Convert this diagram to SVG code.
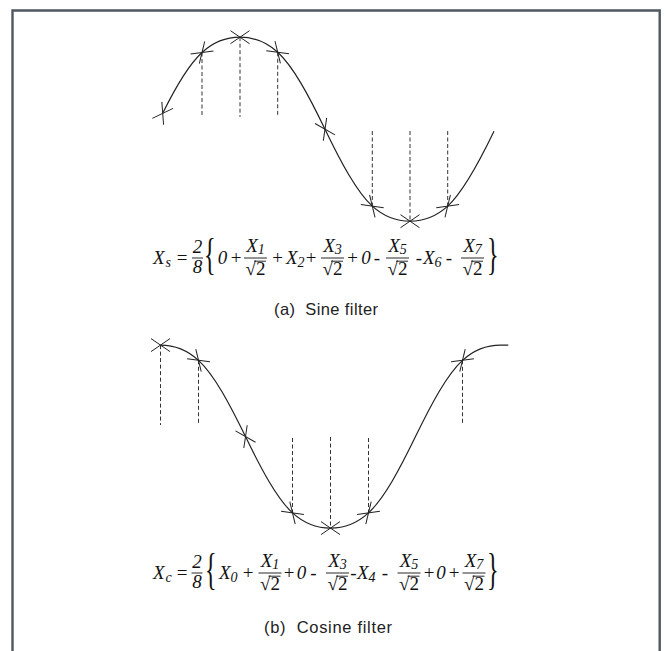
<svg xmlns="http://www.w3.org/2000/svg" xmlns:xlink="http://www.w3.org/1999/xlink" width="668" height="651" viewBox="0 0 668 651">
<style>
.frame{fill:none;stroke:#4f5760;stroke-width:2.4}
.curve{fill:none;stroke:#222;stroke-width:1.2}
.dash{fill:none;stroke:#333;stroke-width:1;stroke-dasharray:4 2.5}
.xm line{stroke:#222;stroke-width:1}
.m{font-family:"Liberation Serif","DejaVu Serif",serif;font-style:italic;font-size:19px;fill:#111}
.mu{font-family:"Liberation Serif","DejaVu Serif",serif;font-size:19px;fill:#111}
.sub{font-size:14px}
.br{font-family:"Liberation Serif","DejaVu Serif",serif;font-size:44px;fill:#111}
.bar{stroke:#111;stroke-width:0.9}
.cap{font-family:"Liberation Sans","Noto Sans",sans-serif;font-size:16.5px;fill:#222;white-space:pre}
</style>
<defs>
<g id="xm" class="xm"><line x1="-9.5" y1="-6.5" x2="9.5" y2="6.5"/><line x1="-9.5" y1="6.5" x2="9.5" y2="-6.5"/></g>
<g id="f1"><line class="bar" x1="-11.5" y1="0" x2="11.5" y2="0"/><text class="mu" x="0" y="16.5" text-anchor="middle">√2</text><line class="bar" x1="-1.5" y1="3.2" x2="10.5" y2="3.2"/></g>
</defs>
<path id="frame" class="frame" d="M12.5 651 V10.5 H659.7 V651"/>

<g id="sine">
<path class="curve" d="M162.7 113.35 C175.8 86.76 188.9 64.55 202 52.53 C214.67 40.9 227.33 37.2 240 37.2 C252.57 37.2 265.13 40.86 277.7 52.27 C293.47 66.59 309.23 96.51 325 129.2 C340.77 161.89 356.53 191.81 372.3 206.13 C384.87 217.54 397.43 221.2 410 221.2 C422.57 221.2 435.13 217.54 447.7 206.13 C463.13 192.11 478.57 163.29 494 131.3"/>
<g class="dashes">
<line class="dash" x1="202" y1="52.5" x2="202" y2="117"/>
<line class="dash" x1="240" y1="37.2" x2="240" y2="117"/>
<line class="dash" x1="277.7" y1="52.3" x2="277.7" y2="117"/>
<line class="dash" x1="372.3" y1="131" x2="372.3" y2="206.1"/>
<line class="dash" x1="410" y1="131" x2="410" y2="221.2"/>
<line class="dash" x1="447.7" y1="131" x2="447.7" y2="206.1"/>
</g>
<use xlink:href="#xm" transform="translate(162.7 113.35) rotate(-60)"/>
<use xlink:href="#xm" transform="translate(202 52.53) rotate(-42)"/>
<use xlink:href="#xm" transform="translate(240 37.2)"/>
<use xlink:href="#xm" transform="translate(277.7 52.27) rotate(42)"/>
<use xlink:href="#xm" transform="translate(325 129.2) rotate(64)"/>
<use xlink:href="#xm" transform="translate(372.3 206.13) rotate(42)"/>
<use xlink:href="#xm" transform="translate(410 221.2)"/>
<use xlink:href="#xm" transform="translate(447.7 206.13) rotate(-42)"/>
</g>

<g id="formula-a">
<text class="m" x="153" y="264">X<tspan class="sub" dy="3" dx="1">s</tspan></text>
<text class="mu" x="182" y="264" text-anchor="middle">=</text>
<text class="m" x="197.5" y="253" text-anchor="middle">2</text>
<line class="bar" x1="192" y1="258" x2="203" y2="258"/>
<text class="m" x="197.5" y="273" text-anchor="middle">8</text>
<text class="br" transform="translate(204 269) scale(0.55 1)">{</text>
<text class="m" x="222.5" y="264" text-anchor="middle">0</text>
<text class="mu" x="236" y="264" text-anchor="middle">+</text>
<text class="m" x="255.5" y="252" text-anchor="middle">X<tspan class="sub" dy="2">1</tspan></text>
<use xlink:href="#f1" transform="translate(255.5 258)"/>
<text class="mu" x="277.5" y="264" text-anchor="middle">+</text>
<text class="m" x="286" y="264">X<tspan class="sub" dy="3">2</tspan></text>
<text class="mu" x="311" y="264" text-anchor="middle">+</text>
<text class="m" x="332.5" y="252" text-anchor="middle">X<tspan class="sub" dy="2">3</tspan></text>
<use xlink:href="#f1" transform="translate(332.5 258)"/>
<text class="mu" x="352.5" y="264" text-anchor="middle">+</text>
<text class="m" x="366" y="264" text-anchor="middle">0</text>
<text class="mu" x="377" y="264" text-anchor="middle">-</text>
<text class="m" x="397.5" y="252" text-anchor="middle">X<tspan class="sub" dy="2">5</tspan></text>
<use xlink:href="#f1" transform="translate(397.5 258)"/>
<text class="mu" x="419" y="264" text-anchor="middle">-</text>
<text class="m" x="423" y="264">X<tspan class="sub" dy="3">6</tspan></text>
<text class="mu" x="449" y="264" text-anchor="middle">-</text>
<text class="m" x="472.5" y="252" text-anchor="middle">X<tspan class="sub" dy="2">7</tspan></text>
<use xlink:href="#f1" transform="translate(472.5 258)"/>
<text class="br" transform="translate(487 269) scale(0.55 1)">}</text>
</g>
<text id="caption-a" class="cap" x="326" y="315" text-anchor="middle" textLength="104" lengthAdjust="spacing">(a)  Sine filter</text>

<g id="cosine">
<path class="curve" d="M160.5 345.1 C173.17 345.1 185.83 348.78 198.5 360.34 C214.17 374.64 229.83 404.3 245.5 436.6 C261.17 468.9 276.83 498.56 292.5 512.86 C305.17 524.42 317.83 528.1 330.5 528.1 C343.17 528.1 355.83 524.42 368.5 512.86 C384.17 498.56 399.83 468.9 415.5 436.6 C431.17 404.3 446.83 374.64 462.5 360.34 C475.17 348.78 487.83 345.1 500.5 345.1 L508.3 345.1"/>
<g class="dashes">
<line class="dash" x1="160.5" y1="345.1" x2="160.5" y2="425"/>
<line class="dash" x1="198.5" y1="360.3" x2="198.5" y2="425"/>
<line class="dash" x1="462.5" y1="360.3" x2="462.5" y2="425"/>
<line class="dash" x1="292.5" y1="438" x2="292.5" y2="512.9"/>
<line class="dash" x1="330.5" y1="437" x2="330.5" y2="528.1"/>
<line class="dash" x1="368.5" y1="438" x2="368.5" y2="512.9"/>
</g>
<use xlink:href="#xm" transform="translate(160.5 345.1)"/>
<use xlink:href="#xm" transform="translate(198.5 360.34) rotate(42)"/>
<use xlink:href="#xm" transform="translate(245.5 436.6) rotate(64)"/>
<use xlink:href="#xm" transform="translate(292.5 512.86) rotate(42)"/>
<use xlink:href="#xm" transform="translate(330.5 528.1)"/>
<use xlink:href="#xm" transform="translate(368.5 512.86) rotate(-42)"/>
<use xlink:href="#xm" transform="translate(462.5 360.34) rotate(-42)"/>
</g>

<g id="formula-b">
<text class="m" x="153" y="579">X<tspan class="sub" dy="3" dx="1">c</tspan></text>
<text class="mu" x="182" y="579" text-anchor="middle">=</text>
<text class="m" x="197" y="568" text-anchor="middle">2</text>
<line class="bar" x1="191.5" y1="573" x2="202.5" y2="573"/>
<text class="m" x="197" y="588" text-anchor="middle">8</text>
<text class="br" transform="translate(205 584) scale(0.55 1)">{</text>
<text class="m" x="219" y="579">X<tspan class="sub" dy="3">0</tspan></text>
<text class="mu" x="248" y="579" text-anchor="middle">+</text>
<text class="m" x="270" y="567" text-anchor="middle">X<tspan class="sub" dy="2">1</tspan></text>
<use xlink:href="#f1" transform="translate(270 573)"/>
<text class="mu" x="289" y="579" text-anchor="middle">+</text>
<text class="m" x="301.5" y="579" text-anchor="middle">0</text>
<text class="mu" x="313.5" y="579" text-anchor="middle">-</text>
<text class="m" x="337.5" y="567" text-anchor="middle">X<tspan class="sub" dy="2">3</tspan></text>
<use xlink:href="#f1" transform="translate(337.5 573)"/>
<text class="mu" x="353.5" y="579" text-anchor="middle">-</text>
<text class="m" x="357" y="579">X<tspan class="sub" dy="3">4</tspan></text>
<text class="mu" x="385" y="579" text-anchor="middle">-</text>
<text class="m" x="409" y="567" text-anchor="middle">X<tspan class="sub" dy="2">5</tspan></text>
<use xlink:href="#f1" transform="translate(409 573)"/>
<text class="mu" x="429" y="579" text-anchor="middle">+</text>
<text class="m" x="441" y="579" text-anchor="middle">0</text>
<text class="mu" x="454" y="579" text-anchor="middle">+</text>
<text class="m" x="474" y="567" text-anchor="middle">X<tspan class="sub" dy="2">7</tspan></text>
<use xlink:href="#f1" transform="translate(474 573)"/>
<text class="br" transform="translate(487 584) scale(0.55 1)">}</text>
</g>
<text id="caption-b" class="cap" x="328" y="633" text-anchor="middle" textLength="128" lengthAdjust="spacing">(b)  Cosine filter</text>
</svg>
